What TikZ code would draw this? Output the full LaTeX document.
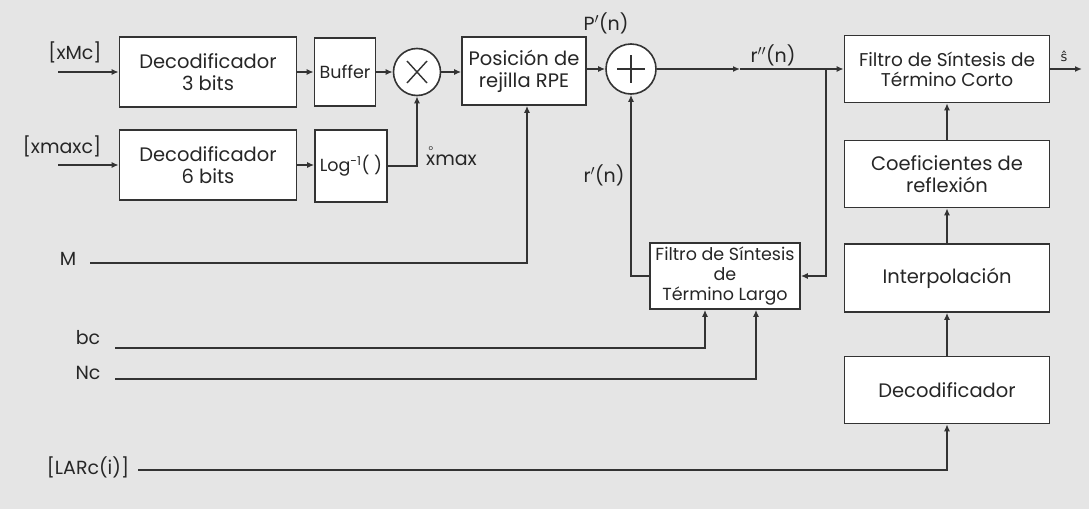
\documentclass[tikz,border=0pt]{standalone}
\usepackage{fontspec}
\setmainfont{Poppins}
\newfontfamily\djv{DejaVu Sans}
\usetikzlibrary{arrows.meta}
\begin{document}
\begin{tikzpicture}[x=1pt,y=-1pt,
  box/.style={draw=black!80, line width=1.6pt, fill=white, inner sep=0pt, align=center, text=black!85, font=\fontsize{19.5}{22}\selectfont},
  sbox/.style={box, font=\fontsize{18.5}{20}\selectfont},
  sum/.style={draw=black!80, line width=1.6pt, fill=white, circle, inner sep=0pt, minimum size=#1},
  ln/.style={draw=black!80, line width=1.4pt},
  arr/.style={ln, -{Latex[length=7pt,width=6pt]}},
  lbl/.style={font=\fontsize{19}{21}\selectfont, inner sep=0pt, text=black!85}]
\fill[black!10] (0,0) rectangle (1089,509);
\useasboundingbox (0,0) rectangle (1089,509);
% blocks
\node[box, minimum width=177pt, minimum height=70pt] (dec3) at (208,72) {Decodificador\\3 bits};
\node[box, minimum width=177pt, minimum height=70pt] (dec6) at (208,165) {Decodificador\\6 bits};
\node[box, font=\fontsize{17.5}{19}\selectfont, minimum width=61pt, minimum height=68pt] (buf) at (345,72) {Buffer};
\node[box, font=\fontsize{17.5}{19}\selectfont, minimum width=72pt, minimum height=72pt] (log) at (351,166) {Log\textsuperscript{-1}( )};
\node[sum=47pt] (mult) at (417,72) {};
\node[box, minimum width=124pt, minimum height=68pt] (pos) at (524,71) {Posición de\\rejilla RPE};
\node[sum=50pt] (add) at (631,69) {};
\node[sbox, minimum width=205pt, minimum height=67pt] (corto) at (947,69) {Filtro de Síntesis de\\Término Corto};
\node[box, minimum width=205pt, minimum height=67pt] (coef) at (947,174) {Coeficientes de\\reflexión};
\node[box, minimum width=205pt, minimum height=68pt] (interp) at (947,278) {Interpolación};
\node[box, minimum width=205pt, minimum height=67pt] (decod) at (947,390) {Decodificador};
\node[sbox, minimum width=150pt, minimum height=66pt, font=\fontsize{17.5}{20}\selectfont] (largo) at (725,276) {Filtro de Síntesis\\de\\Término Largo};
% symbols inside circles
\draw[ln] ([shift={(-10,-11)}]mult.center) -- ([shift={(10,11)}]mult.center);
\draw[ln] ([shift={(-10,11)}]mult.center) -- ([shift={(10,-11)}]mult.center);
\draw[ln] ([shift={(0,-14)}]add.center) -- ([shift={(0,14)}]add.center);
\draw[ln] ([shift={(-14,0)}]add.center) -- ([shift={(14,0)}]add.center);
% inputs
\coordinate (inXM) at (58,72);
\coordinate (inXmax) at (58,165);
\coordinate (inM) at (90,263);
\coordinate (inbc) at (115,348);
\coordinate (inNc) at (115,379);
\coordinate (inL) at (138,470);
\node[lbl] (lXM) at (75,52) {[xMc]};
\node[lbl] (lXmax) at (62,146) {[xmaxc]};
\node[lbl] (lM) at (68,259) {M};
\node[lbl] (lbc) at (88,338) {bc};
\node[lbl] (lNc) at (88,373) {Nc};
\node[lbl] (lL) at (88,467) {[LARc(i)]};
% connectors
\draw[arr] (inXM) -- (dec3.west);
\draw[arr] (inXmax) -- (dec6.west);
\draw[arr] (dec3.east) -- (buf.west);
\draw[arr] (dec6.east) -- (log.west |- dec6.east);
\draw[arr] (buf.east) -- (mult.west);
\draw[arr] (log.east) -| (mult.south);
\node[lbl, anchor=west] (lxmax) at (426,160) {{\ooalign{x\cr\hfil\raisebox{0.75em}{\scriptsize o}\hfil\cr}}max};
\draw[arr] (mult.east) -- (pos.west |- mult.east);
\draw[arr] (inM) -| ([xshift=3pt]pos.south);
\draw[arr] (pos.east |- add.west) -- (add.west);
\node[lbl] (lP) at (606,23) {P$'$(n)};
\coordinate (rmid) at (740,69);
\coordinate (br) at (826,69);
\draw[arr] (add.east) -- (rmid);
\draw[ln] (rmid) -- (br);
\draw[arr] (br) -- (corto.west);
\node[lbl] (lr2) at (773,55) {r$''$(n)};
\draw[arr] (br) |- (largo.east);
\draw[arr] (largo.west) -| (add.south);
\node[lbl] (lr1) at (604,175) {r$'$(n)};
\draw[arr] (inbc) -| ([xshift=-20pt]largo.south);
\draw[arr] (inNc) -| ([xshift=31pt]largo.south);
\draw[arr] (inL) -| (decod.south);
\draw[arr] (decod.north) -- (interp.south);
\draw[arr] (interp.north) -- (coef.south);
\draw[arr] (coef.north) -- (corto.south);
\coordinate (out) at (1082,69);
\draw[arr] (corto.east) -- (out);
\node[lbl, font=\djv\fontsize{13}{15}\selectfont] (ls) at (1064,56) {ŝ};
\end{tikzpicture}
\end{document}
